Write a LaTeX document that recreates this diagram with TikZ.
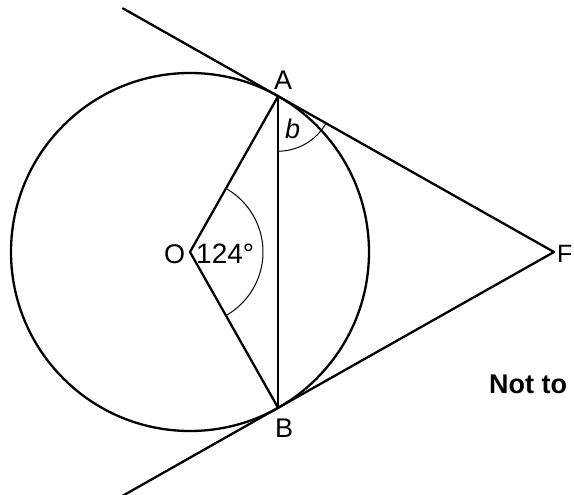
\documentclass[tikz,border=0pt]{standalone}
\usepackage{fontspec}
\setmainfont{Liberation Sans}
\begin{document}
\begin{tikzpicture}[x=1pt,y=-1pt,line join=round,line cap=round,
  heavy/.style={line width=2.3pt},
  thinarc/.style={line width=1pt},
  lbl/.style={inner sep=0pt,anchor=base west,font=\fontsize{27}{32}\selectfont},
  note/.style={inner sep=0pt,anchor=base west,font=\fontsize{27}{32}\selectfont\bfseries}]
\useasboundingbox (0,0) rectangle (574,495);
\coordinate (O) at (190,252);
\coordinate (A) at (278.1,96.2);
\coordinate (B) at (278.1,407.8);
\coordinate (P) at (554,252);
\coordinate (T1) at (123,8.4);
\coordinate (T2) at (123,495.6);
% circle
\draw[heavy] (O) circle[radius=179];
% tangents
\draw[heavy] (T1) -- (A) -- (P) -- (B) -- (T2);
% radii and chord
\draw[heavy] (A) -- (O) -- (B);
\draw[heavy] (A) -- (B);
% angle arcs
\draw[thinarc] ([shift={(O)}]-60.5:73) arc[start angle=-60.5,end angle=60.5,radius=73];
\draw[thinarc] ([shift={(A)}]90:55) arc[start angle=90,end angle=29.5,radius=55];
% labels
\node[lbl] (la) at (274,90) {A};
\node[lbl] (lb) at (285,139) {\itshape b};
\node[lbl] (lo) at (164,263) {O};
\node[lbl,font=\fontsize{28}{32}\selectfont] (l124) at (196,263) {124°};
\node[lbl] (lbB) at (275,437) {B};
\node[lbl,font=\fontsize{25}{30}\selectfont] (lp) at (557,262) {F};
\node[note] (nt) at (489,393) {Not to};
\end{tikzpicture}
\end{document}
